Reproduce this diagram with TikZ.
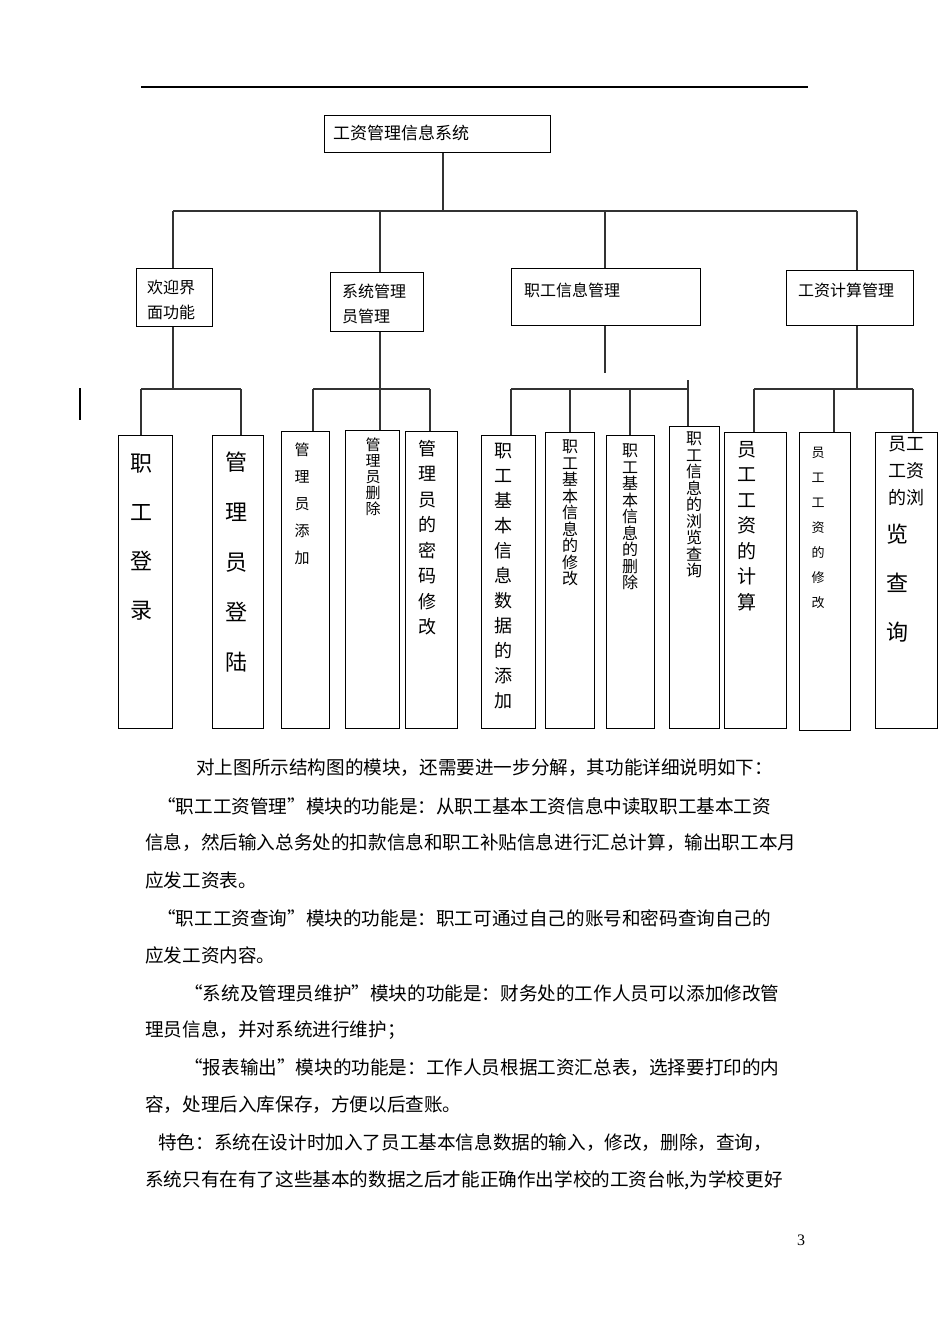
\documentclass[tikz,border=0pt]{standalone}
\usepackage{fontspec}
\setmainfont{Liberation Serif}
\newfontfamily\cjk{Noto Sans CJK SC}
\tikzset{
  box/.style={draw, line width=1.2pt, inner sep=0pt, anchor=north west},
  link/.style={draw, line width=1.5pt, black!80},
  vtxt/.style={inner sep=0pt, anchor=north, align=center},
  para/.style={inner sep=0pt, anchor=west, font=\cjk\fontsize{18.6}{20}\selectfont}
}
\newcommand{\fs}[2]{\cjk\fontsize{#1}{#2}\selectfont}
\newcommand{\oq}{\makebox[1em][r]{“}}
\newcommand{\cq}{\makebox[1em][l]{”}}
\newcommand{\cc}{\makebox[1em][l]{：}}
\newcommand{\cm}{\makebox[1em][l]{，}}
\begin{document}
\begin{tikzpicture}[x=1pt, y=-1pt]
\useasboundingbox (0,0) rectangle (950,1344);
\draw[line width=1.5pt] (141,87) -- (808,87);

% top level
\node[box, minimum width=226pt, minimum height=37pt] (sys) at (324,115) {};
\node[para, font=\fs{17}{20}] at (333,133) {工资管理信息系统};

% second level
\node[box, minimum width=76pt, minimum height=58pt] (welcome) at (136,268) {};
\node[vtxt, anchor=north west, align=left, font=\fs{16}{25}] at (147,280) {欢迎界\\面功能};
\node[box, minimum width=93pt, minimum height=59pt] (admin) at (330,272) {};
\node[vtxt, anchor=north west, align=left, font=\fs{16}{25}] at (342,284) {系统管理\\员管理};
\node[box, minimum width=189pt, minimum height=57pt] (staff) at (511,268) {};
\node[para, font=\fs{16}{20}] at (524,290) {职工信息管理};
\node[box, minimum width=127pt, minimum height=55pt] (wage) at (786,270) {};
\node[para, font=\fs{16}{20}] at (798,290) {工资计算管理};

\draw[link] (sys.south -| 443,0) -- (443,211);
\draw[link] (173,211) -- (857,211);
\foreach \n/\x in {welcome/173, admin/380, staff/605, wage/857}
  \draw[link] (\x,211) -- (\n.north -| \x,0);

% leaves
\foreach \n/\x/\y/\w/\h in {L1/118/435/54/293, L2/212/435/51/293, L3/281/431/48/297,
  L4/345/430/54/298, L5/405/431/52/297, L6/481/435/54/293, L7/545/432/49/296,
  L8/606/435/48/293, L9/669/426/50/302, L10/724/432/62/296, L11/799/432/51/298,
  L12/875/432/62/296}
  \node[box, minimum width=\w pt, minimum height=\h pt] (\n) at (\x,\y) {};

\node[vtxt, font=\fs{22}{49}] at (141,454) {职\\工\\登\\录};
\node[vtxt, font=\fs{22}{50}] at (236,452) {管\\理\\员\\登\\陆};
\node[vtxt, font=\fs{15}{27}] at (302,443) {管\\理\\员\\添\\加};
\node[vtxt, font=\fs{15}{16}] at (373,438) {管\\理\\员\\删\\除};
\node[vtxt, font=\fs{18}{25.5}] at (427,440) {管\\理\\员\\的\\密\\码\\修\\改};
\node[vtxt, font=\fs{18}{25}] at (503,443) {职\\工\\基\\本\\信\\息\\数\\据\\的\\添\\加};
\node[vtxt, font=\fs{16}{16.5}] at (570,440) {职\\工\\基\\本\\信\\息\\的\\修\\改};
\node[vtxt, font=\fs{16}{16.5}] at (630,444) {职\\工\\基\\本\\信\\息\\的\\删\\除};
\node[vtxt, font=\fs{16}{16.5}] at (694,432) {职\\工\\信\\息\\的\\浏\\览\\查\\询};
\node[vtxt, font=\fs{19}{25.5}] at (747,441) {员\\工\\工\\资\\的\\计\\算};
\node[vtxt, font=\fs{13}{25}] at (818,447) {员\\工\\工\\资\\的\\修\\改};
\node[vtxt, font=\fs{18}{27}] at (906,436) {员工\\工资\\的浏};
\node[vtxt, font=\fs{22}{49}] at (897,524) {览\\查\\询};

% leaf connectors
\draw[link] (welcome.south -| 173,0) -- (173,389);
\draw[link] (141,389) -- (241,389);
\foreach \n/\x in {L1/141, L2/241} \draw[link] (\x,389) -- (\n.north -| \x,0);
\draw[link] (admin.south -| 380,0) -- (380,389);
\draw[link] (313,389) -- (430,389);
\foreach \n/\x in {L3/313, L4/380, L5/430} \draw[link] (\x,389) -- (\n.north -| \x,0);
\draw[link] (staff.south -| 605,0) -- (605,373);
\draw[link] (511,389) -- (688,389);
\foreach \n/\x in {L6/511, L7/570, L8/630, L9/688} \draw[link] (\x,389) -- (\n.north -| \x,0);
\draw[link] (688,380) -- (688,389);
\draw[link] (wage.south -| 857,0) -- (857,389);
\draw[link] (754,389) -- (913,389);
\foreach \n/\x in {L10/754, L11/834, L12/913} \draw[link] (\x,389) -- (\n.north -| \x,0);
\draw[line width=1.2pt] (80,388) -- (80,420);

% text
\node[para] at (196,768) {对上图所示结构图的模块\cm 还需要进一步分解\cm 其功能详细说明如下\cc};
\node[para] at (157,806) {\oq 职工工资管理\cq 模块的功能是\cc 从职工基本工资信息中读取职工基本工资};
\node[para] at (145,843) {信息\cm 然后输入总务处的扣款信息和职工补贴信息进行汇总计算\cm 输出职工本月};
\node[para] at (145,880) {应发工资表。};
\node[para] at (157,918) {\oq 职工工资查询\cq 模块的功能是\cc 职工可通过自己的账号和密码查询自己的};
\node[para] at (145,955) {应发工资内容。};
\node[para] at (184,993) {\oq 系统及管理员维护\cq 模块的功能是\cc 财务处的工作人员可以添加修改管};
\node[para] at (145,1030) {理员信息\cm 并对系统进行维护；};
\node[para] at (184,1068) {\oq 报表输出\cq 模块的功能是\cc 工作人员根据工资汇总表\cm 选择要打印的内};
\node[para] at (145,1105) {容\cm 处理后入库保存\cm 方便以后查账。};
\node[para] at (158,1143) {特色\cc 系统在设计时加入了员工基本信息数据的输入\cm 修改\cm 删除\cm 查询\cm};
\node[para] at (145,1180) {系统只有在有了这些基本的数据之后才能正确作出学校的工资台帐,为学校更好};
\node[inner sep=0pt, font=\fontsize{16}{18}\selectfont] at (801,1240) {3};
\end{tikzpicture}
\end{document}
